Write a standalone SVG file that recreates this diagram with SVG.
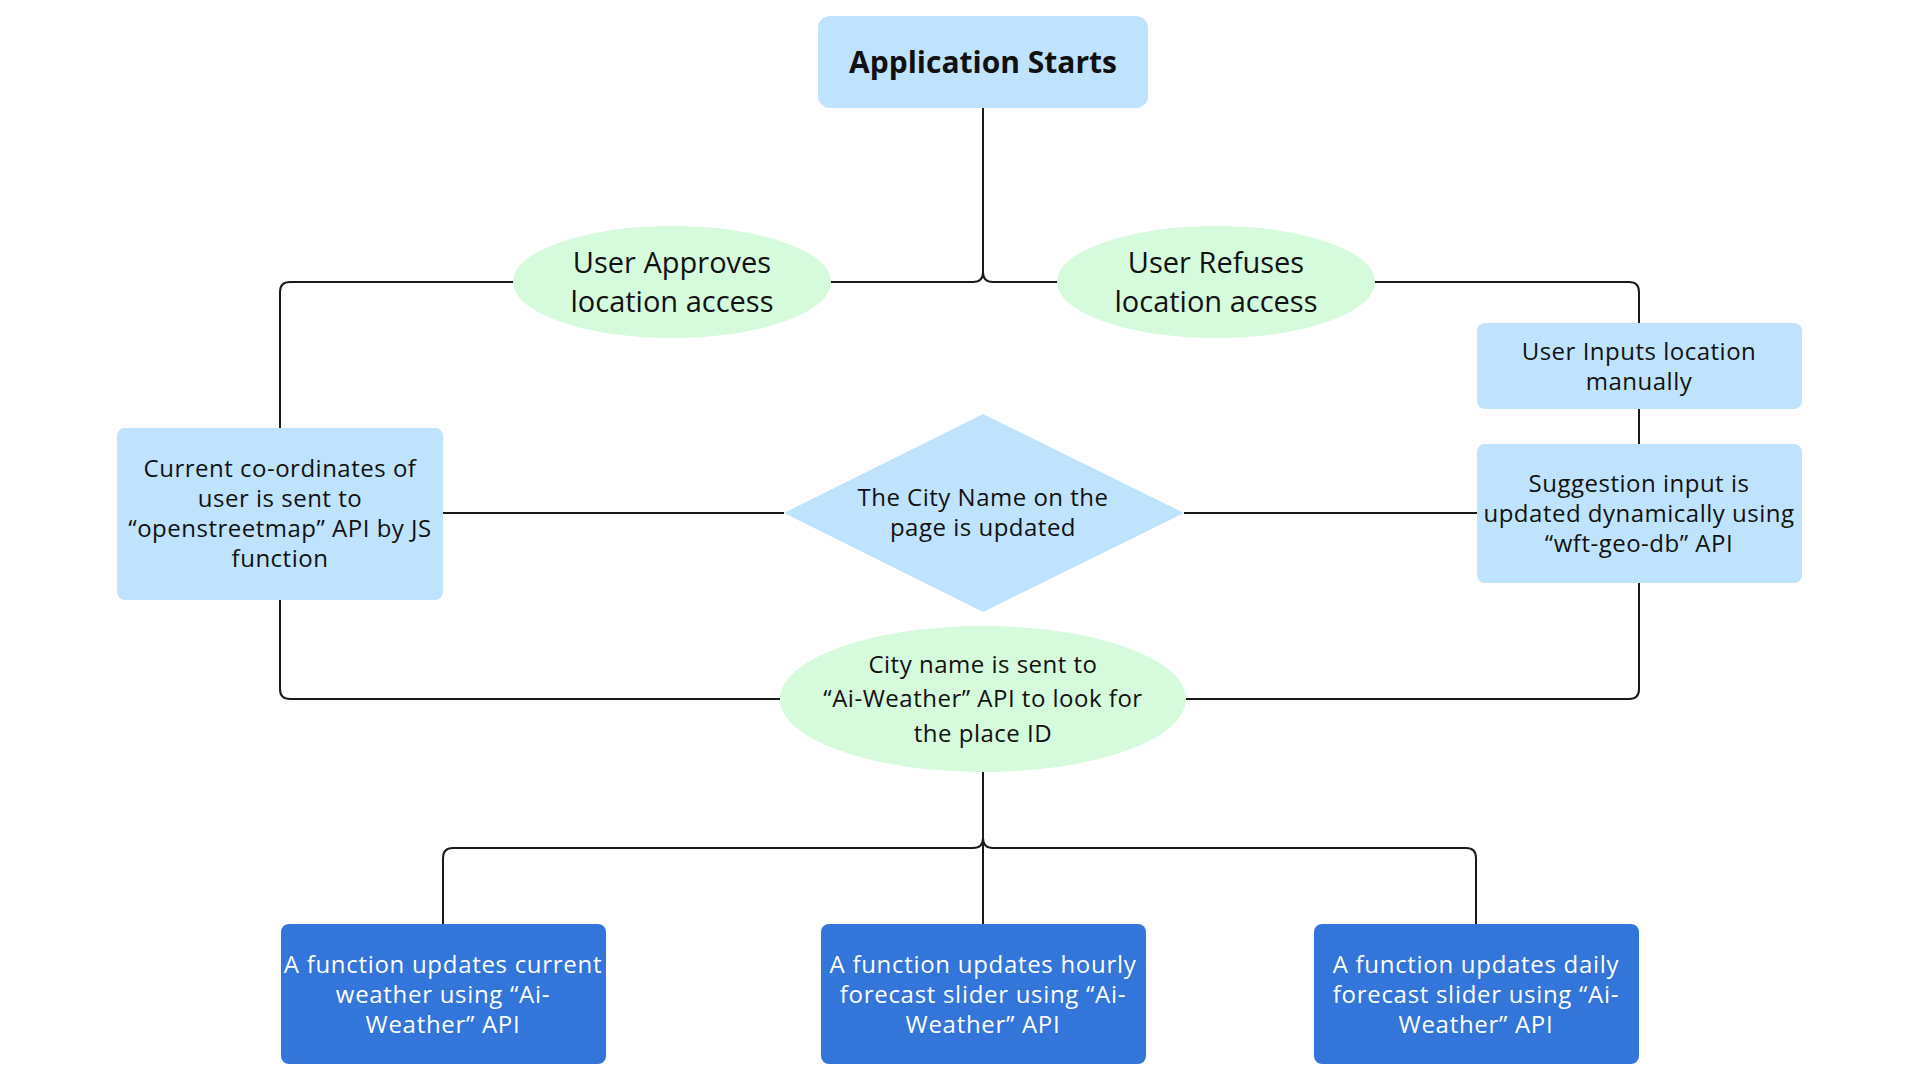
<svg xmlns="http://www.w3.org/2000/svg" width="1920" height="1080" viewBox="0 0 1920 1080">
<style>
.lb{fill:#c0e3fd}
.gr{fill:#d5fadc}
.db{fill:#3375d9}
.t{font-family:"Open Sans","Liberation Sans",sans-serif;font-size:24px;letter-spacing:0.5px;fill:#111;text-anchor:middle}
.tw{font-family:"Open Sans","Liberation Sans",sans-serif;font-size:24px;letter-spacing:0.7px;fill:#fff;text-anchor:middle}
.te{font-family:"Open Sans","Liberation Sans",sans-serif;font-size:29px;fill:#111;text-anchor:middle}
.tb{font-family:"Open Sans","Liberation Sans",sans-serif;font-size:30px;font-weight:bold;fill:#111;text-anchor:middle}
.c{fill:none;stroke:#1a1a1a;stroke-width:2}
</style>
<rect width="1920" height="1080" fill="#fff"/>
<g id="connectors">
<path class="c" d="M983,108 V272 Q983,282 973,282 H831"/>
<path class="c" d="M983,272 Q983,282 993,282 H1057"/>
<path class="c" d="M513,282 H290 Q280,282 280,292 V428"/>
<path class="c" d="M280,600 V689 Q280,699 290,699 H780"/>
<path class="c" d="M1375,282 H1629 Q1639,282 1639,292 V323"/>
<path class="c" d="M1639,409 V444"/>
<path class="c" d="M1639,583 V689 Q1639,699 1629,699 H1186"/>
<path class="c" d="M443,513 H784"/>
<path class="c" d="M1184,513 H1477"/>
<path class="c" d="M983,772 V838 Q983,848 973,848 H453 Q443,848 443,858 V924"/>
<path class="c" d="M983,838 Q983,848 993,848 H1466 Q1476,848 1476,858 V924"/>
<path class="c" d="M983,772 V924"/>
</g>
<g id="start">
<rect class="lb" x="818" y="16" width="330" height="92" rx="12"/>
<text class="tb" x="983" y="73">Application Starts</text>
</g>
<g id="approve">
<ellipse class="gr" cx="672" cy="282" rx="159" ry="56"/>
<text class="te" x="672" y="273">User Approves</text>
<text class="te" x="672" y="312">location access</text>
</g>
<g id="refuse">
<ellipse class="gr" cx="1216" cy="282" rx="159" ry="56"/>
<text class="te" x="1216" y="273">User Refuses</text>
<text class="te" x="1216" y="312">location access</text>
</g>
<g id="coords">
<rect class="lb" x="117" y="428" width="326" height="172" rx="8"/>
<text class="t" x="280" y="477">Current co-ordinates of</text>
<text class="t" x="280" y="507">user is sent to</text>
<text class="t" x="280" y="537">“openstreetmap” API by JS</text>
<text class="t" x="280" y="567">function</text>
</g>
<g id="cityupdate">
<polygon class="lb" points="983,414 1184,513 983,612 784,513"/>
<text class="t" x="983" y="506">The City Name on the</text>
<text class="t" x="983" y="536">page is updated</text>
</g>
<g id="manual">
<rect class="lb" x="1477" y="323" width="325" height="86" rx="8"/>
<text class="t" x="1639" y="360">User Inputs location</text>
<text class="t" x="1639" y="390">manually</text>
</g>
<g id="suggest">
<rect class="lb" x="1477" y="444" width="325" height="139" rx="8"/>
<text class="t" x="1639" y="492">Suggestion input is</text>
<text class="t" x="1639" y="522">updated dynamically using</text>
<text class="t" x="1639" y="552">“wft-geo-db” API</text>
</g>
<g id="cityname">
<ellipse class="gr" cx="983" cy="699" rx="203" ry="73"/>
<text class="t" x="983" y="673">City name is sent to</text>
<text class="t" x="983" y="707">“Ai-Weather” API to look for</text>
<text class="t" x="983" y="742">the place ID</text>
</g>
<g id="current">
<rect class="db" x="281" y="924" width="325" height="140" rx="8"/>
<text class="tw" x="443" y="973">A function updates current</text>
<text class="tw" x="443" y="1003">weather using “Ai-</text>
<text class="tw" x="443" y="1033">Weather” API</text>
</g>
<g id="hourly">
<rect class="db" x="821" y="924" width="325" height="140" rx="8"/>
<text class="tw" x="983" y="973">A function updates hourly</text>
<text class="tw" x="983" y="1003">forecast slider using “Ai-</text>
<text class="tw" x="983" y="1033">Weather” API</text>
</g>
<g id="daily">
<rect class="db" x="1314" y="924" width="325" height="140" rx="8"/>
<text class="tw" x="1476" y="973">A function updates daily</text>
<text class="tw" x="1476" y="1003">forecast slider using “Ai-</text>
<text class="tw" x="1476" y="1033">Weather” API</text>
</g>
</svg>
